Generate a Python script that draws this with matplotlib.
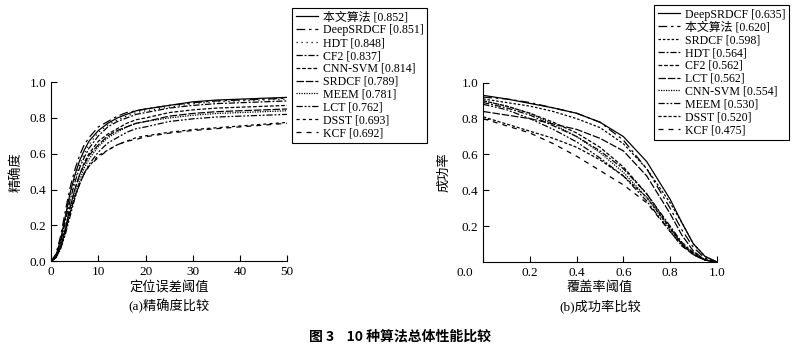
import matplotlib
matplotlib.use("Agg")
import matplotlib.pyplot as plt
from matplotlib.transforms import ScaledTranslation

plt.rcParams["font.family"] = ["Liberation Serif", "Noto Sans CJK SC"]

# ---- precision plot data ----
prec_x = [0, 1, 2, 3, 4, 5, 6, 7, 8, 10, 12, 14, 16, 18, 20, 25, 30, 35, 40, 45, 50]
prec_names = ["本文算法 [0.852]", "DeepSRDCF [0.851]", "HDT [0.848]", "CF2 [0.837]",
              "CNN-SVM [0.814]", "SRDCF [0.789]", "MEEM [0.781]", "LCT [0.762]",
              "DSST [0.693]", "KCF [0.692]"]
prec_ours = [0, 0.03, 0.12, 0.25, 0.38, 0.48, 0.56, 0.62, 0.67, 0.73, 0.77, 0.80, 0.82, 0.84, 0.85, 0.87, 0.89, 0.90, 0.905, 0.91, 0.915]
prec_deepsrdcf = [0, 0.04, 0.14, 0.28, 0.41, 0.51, 0.59, 0.65, 0.69, 0.75, 0.78, 0.81, 0.83, 0.84, 0.85, 0.87, 0.885, 0.895, 0.90, 0.905, 0.91]
prec_hdt = [0, 0.03, 0.11, 0.24, 0.36, 0.46, 0.54, 0.60, 0.65, 0.72, 0.76, 0.79, 0.81, 0.83, 0.84, 0.86, 0.88, 0.89, 0.895, 0.90, 0.905]
prec_cf2 = [0, 0.03, 0.10, 0.22, 0.34, 0.44, 0.52, 0.58, 0.63, 0.70, 0.75, 0.78, 0.80, 0.82, 0.83, 0.855, 0.87, 0.88, 0.885, 0.89, 0.895]
prec_cnnsvm = [0, 0.02, 0.08, 0.18, 0.30, 0.40, 0.48, 0.55, 0.60, 0.67, 0.71, 0.74, 0.77, 0.79, 0.80, 0.83, 0.845, 0.855, 0.86, 0.865, 0.87]
prec_srdcf = [0, 0.02, 0.08, 0.18, 0.30, 0.40, 0.48, 0.54, 0.59, 0.65, 0.70, 0.73, 0.75, 0.77, 0.78, 0.81, 0.825, 0.835, 0.84, 0.845, 0.85]
prec_meem = [0, 0.02, 0.07, 0.16, 0.27, 0.37, 0.45, 0.52, 0.57, 0.64, 0.69, 0.72, 0.75, 0.77, 0.78, 0.80, 0.815, 0.825, 0.83, 0.835, 0.84]
prec_lct = [0, 0.02, 0.07, 0.15, 0.25, 0.35, 0.43, 0.49, 0.54, 0.61, 0.66, 0.69, 0.72, 0.74, 0.75, 0.78, 0.795, 0.805, 0.81, 0.815, 0.82]
prec_dsst = [0, 0.02, 0.08, 0.17, 0.27, 0.36, 0.43, 0.49, 0.53, 0.59, 0.62, 0.65, 0.67, 0.69, 0.70, 0.72, 0.735, 0.745, 0.755, 0.765, 0.775]
prec_kcf = [0, 0.02, 0.08, 0.17, 0.27, 0.36, 0.43, 0.49, 0.53, 0.58, 0.62, 0.65, 0.67, 0.68, 0.695, 0.715, 0.73, 0.74, 0.75, 0.76, 0.77]

# ---- success plot data ----
succ_x = [0, 0.1, 0.2, 0.3, 0.4, 0.5, 0.6, 0.7, 0.8, 0.85, 0.9, 0.95, 1.0]
succ_names = ["DeepSRDCF [0.635]", "本文算法 [0.620]", "SRDCF [0.598]", "HDT [0.564]",
              "CF2 [0.562]", "LCT [0.562]", "CNN-SVM [0.554]", "MEEM [0.530]",
              "DSST [0.520]", "KCF [0.475]"]
succ_deepsrdcf = [0.93, 0.91, 0.885, 0.86, 0.83, 0.78, 0.70, 0.56, 0.35, 0.22, 0.10, 0.03, 0]
succ_ours = [0.92, 0.91, 0.89, 0.86, 0.83, 0.78, 0.68, 0.52, 0.30, 0.18, 0.08, 0.02, 0]
succ_srdcf = [0.91, 0.89, 0.87, 0.84, 0.80, 0.75, 0.66, 0.52, 0.33, 0.22, 0.10, 0.03, 0]
succ_hdt = [0.89, 0.86, 0.82, 0.76, 0.70, 0.62, 0.52, 0.38, 0.20, 0.11, 0.05, 0.01, 0]
succ_cf2 = [0.90, 0.87, 0.83, 0.78, 0.72, 0.64, 0.53, 0.38, 0.19, 0.10, 0.05, 0.01, 0]
succ_lct = [0.84, 0.82, 0.80, 0.77, 0.74, 0.69, 0.62, 0.48, 0.27, 0.15, 0.06, 0.01, 0]
succ_cnnsvm = [0.90, 0.87, 0.83, 0.77, 0.70, 0.61, 0.50, 0.36, 0.18, 0.10, 0.04, 0.01, 0]
succ_meem = [0.88, 0.85, 0.80, 0.74, 0.67, 0.58, 0.48, 0.34, 0.17, 0.09, 0.04, 0.01, 0]
succ_dsst = [0.81, 0.77, 0.73, 0.69, 0.64, 0.57, 0.48, 0.36, 0.19, 0.10, 0.04, 0.01, 0]
succ_kcf = [0.80, 0.76, 0.72, 0.66, 0.59, 0.51, 0.43, 0.33, 0.17, 0.09, 0.04, 0.01, 0]

# line styles, in legend order of each panel
prec_styles = ["-", (0, (7, 3, 2, 3)), (0, (1, 3)), (0, (5, 1.5, 1.5, 1.5)), (0, (3, 1.5)),
               (0, (6, 1.5)), (0, (1, 1)), (0, (5, 1.5, 1.5, 1.5, 1.5, 1.5)), (0, (2.5, 2.5)), (0, (4, 4))]
succ_styles = ["-", (0, (7, 3, 2, 3)), (0, (2, 1.5)), (0, (5, 1.5, 1.5, 1.5)), (0, (3, 1.5)),
               (0, (6, 1.5)), (0, (1, 1)), (0, (5, 1.5, 1.5, 1.5, 1.5, 1.5)), (0, (2.5, 1.5)), (0, (4, 4))]

fig = plt.figure(figsize=(8, 3.51), dpi=100)
ax1 = fig.add_axes([0.064, 0.256, 0.295, 0.51])
ax2 = fig.add_axes([0.604, 0.254, 0.292, 0.51])

prec_data = [prec_ours, prec_deepsrdcf, prec_hdt, prec_cf2, prec_cnnsvm,
             prec_srdcf, prec_meem, prec_lct, prec_dsst, prec_kcf]
succ_data = [succ_deepsrdcf, succ_ours, succ_srdcf, succ_hdt, succ_cf2,
             succ_lct, succ_cnnsvm, succ_meem, succ_dsst, succ_kcf]

for ys, name, ls in zip(prec_data, prec_names, prec_styles):
    ax1.plot(prec_x, ys, color="black", linestyle=ls, linewidth=0.9, label=name)
for ys, name, ls in zip(succ_data, succ_names, succ_styles):
    ax2.plot(succ_x, ys, color="black", linestyle=ls, linewidth=0.9, label=name)

for ax in (ax1, ax2):
    ax.spines["top"].set_visible(False)
    ax.spines["right"].set_visible(False)
    ax.tick_params(direction="in", length=4, labelsize=9.5, width=0.8)

ax1.set_xlim(0, 50)
ax1.set_ylim(0, 1.0)
ax1.set_xticks([0, 10, 20, 30, 40, 50])
ax1.set_yticks([0, 0.2, 0.4, 0.6, 0.8, 1.0])
ax1.set_yticklabels(["0.0", "0.2", "0.4", "0.6", "0.8", "1.0"])
ax1.set_ylabel("精确度", fontsize=9.5, labelpad=5)
ax1.set_xlabel("定位误差阈值\n(a)精确度比较", fontsize=9.5, linespacing=1.45, labelpad=2)

ax2.set_xlim(0, 1.0)
ax2.set_ylim(0, 1.0)
ax2.set_xticks([0, 0.2, 0.4, 0.6, 0.8, 1.0])
ax2.set_xticklabels(["0.0", "0.2", "0.4", "0.6", "0.8", "1.0"])
ax2.set_yticks([0.2, 0.4, 0.6, 0.8, 1.0])
ax2.set_yticklabels(["0.2", "0.4", "0.6", "0.8", "1.0"])
ax2.set_ylabel("成功率", fontsize=9.5, labelpad=8)
ax2.set_xlabel("覆盖率阈值\n(b)成功率比较", fontsize=9.5, linespacing=1.45, labelpad=2)
# the "0.0" label sits left of the corner in the original
zero_lbl = ax2.get_xticklabels()[0]
zero_lbl.set_transform(zero_lbl.get_transform() + ScaledTranslation(-0.18, 0, fig.dpi_scale_trans))

leg_kw = dict(loc="upper left", fontsize=8.6, frameon=True, fancybox=False,
              edgecolor="black", framealpha=1, labelspacing=0.07, handlelength=1.9,
              handletextpad=0.4, borderpad=0.3, borderaxespad=0)
l1 = ax1.legend(bbox_to_anchor=(292 / 800, 1 - 8 / 351), bbox_transform=fig.transFigure, **leg_kw)
l2 = ax2.legend(bbox_to_anchor=(654 / 800, 1 - 5 / 351), bbox_transform=fig.transFigure, **leg_kw)
for leg in (l1, l2):
    leg.get_frame().set_linewidth(0.8)

fig.text(0.5, 1 - 337 / 351, "图 3    10 种算法总体性能比较", ha="center", va="center",
         fontsize=10, fontweight="bold", family=["Noto Sans CJK SC"])

fig.savefig("out.png", dpi=100)
